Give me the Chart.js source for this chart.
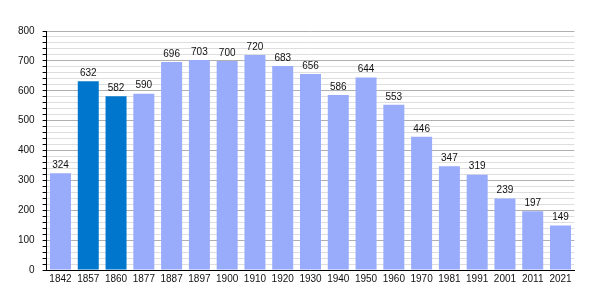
<!DOCTYPE html>
<html>
<head>
<meta charset="utf-8">
<script src="https://cdn.jsdelivr.net/npm/chart.js@4/dist/chart.umd.min.js"></script>
<style>
html,body{margin:0;padding:0;background:#fff;}
#wrap{width:600px;height:300px;position:relative;}
</style>
</head>
<body>
<div id="wrap"><canvas id="c"></canvas></div>
<script>
const years = ["1842","1857","1860","1877","1887","1897","1900","1910","1920","1930","1940","1950","1960","1970","1981","1991","2001","2011","2021"];
const population = [324,632,582,590,696,703,700,720,683,656,586,644,553,446,347,319,239,197,149];
const highlighted = [1,2];
const yMax = 800;
const yStep = 20;
const yMajor = 100;

const lightColor = "rgb(153,172,252)";
const darkColor = "rgb(0,119,204)";
const barColors = years.map((y,i) => highlighted.includes(i) ? darkColor : lightColor);

const valueLabels = {
  id: 'valueLabels',
  afterDatasetsDraw(chart) {
    const ctx = chart.ctx;
    const meta = chart.getDatasetMeta(0);
    ctx.save();
    ctx.font = '10px "Liberation Sans", Arial, sans-serif';
    ctx.fillStyle = '#111';
    ctx.textAlign = 'center';
    ctx.textBaseline = 'bottom';
    meta.data.forEach((bar, i) => {
      ctx.fillText(String(chart.data.datasets[0].data[i]), bar.x, bar.y - 3);
    });
    ctx.restore();
  }
};

new Chart(document.getElementById('c'), {
  type: 'bar',
  data: {
    labels: years,
    datasets: [{
      data: population,
      backgroundColor: barColors,
      borderWidth: 0,
      barPercentage: 0.756,
      categoryPercentage: 1.0
    }]
  },
  options: {
    responsive: true,
    maintainAspectRatio: false,
    animation: false,
    layout: { padding: { left: 0, right: 25.6, top: 31, bottom: 0 } },
    plugins: { legend: { display: false }, tooltip: { enabled: false } },
    scales: {
      x: {
        grid: { display: false, drawTicks: false, tickLength: 0 },
        border: { display: true, color: '#000', width: 1 },
        ticks: {
          color: '#111',
          font: { family: '"Liberation Sans", Arial, sans-serif', size: 10 },
          padding: 3,
          maxRotation: 0,
          autoSkip: false
        },
        afterFit(scale) { scale.height = 30; }
      },
      y: {
        min: 0,
        max: yMax,
        border: { display: true, color: '#000', width: 1 },
        grid: {
          color: ctx => (ctx.tick && ctx.tick.value % yMajor === 0) ? '#b0b0b0' : '#dedede',
          tickColor: '#000',
          tickLength: 4,
          lineWidth: 1
        },
        ticks: {
          stepSize: yStep,
          autoSkip: false,
          color: '#111',
          padding: 8,
          font: { family: '"Liberation Sans", Arial, sans-serif', size: 10 },
          callback: v => (v % yMajor === 0 ? String(v) : '')
        },
        afterFit(scale) { scale.width = 46.6; }
      }
    }
  },
  plugins: [valueLabels]
});
</script>
</body>
</html>
